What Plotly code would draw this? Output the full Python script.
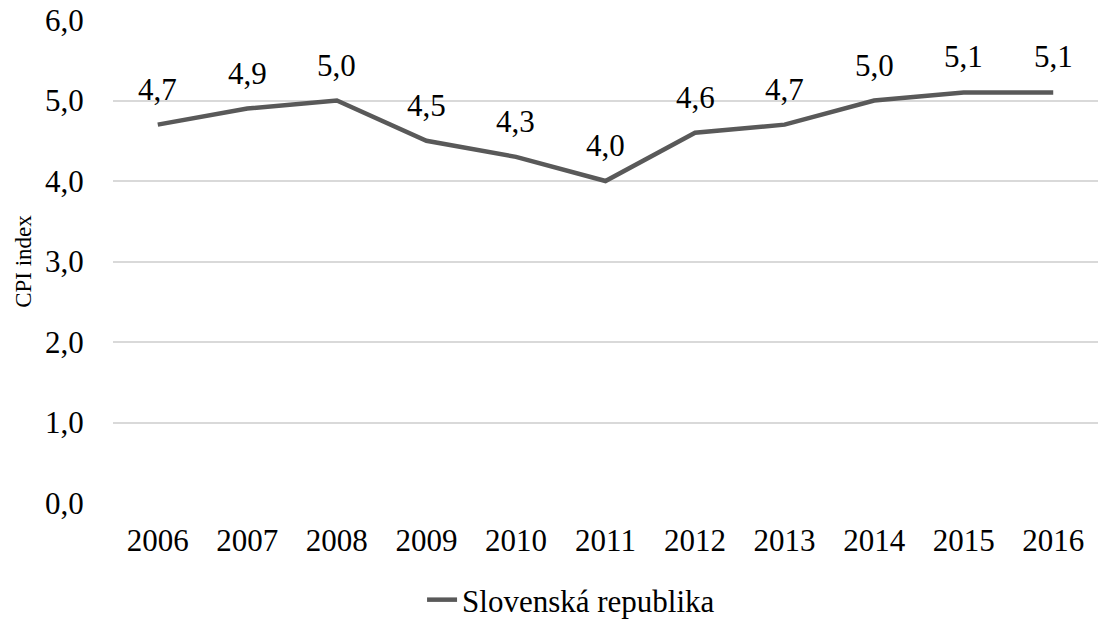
import plotly.graph_objects as go

years = ["2006", "2007", "2008", "2009", "2010", "2011", "2012", "2013", "2014", "2015", "2016"]
cpi = [4.7, 4.9, 5.0, 4.5, 4.3, 4.0, 4.6, 4.7, 5.0, 5.1, 5.1]
series_name = "Slovenská republika"

font_family = "Liberation Serif"

fig = go.Figure()
fig.add_trace(go.Scatter(
    x=years, y=cpi, name=series_name, mode="lines",
    line=dict(color="#595959", width=4.5),
    showlegend=True,
))

for i, v in enumerate(cpi):
    fig.add_annotation(
        x=i, y=v, xref="x", yref="y",
        text=f"{v:.1f}".replace(".", ","),
        showarrow=False, yanchor="bottom", yshift=16,
        font=dict(family=font_family, size=31, color="#000000"),
    )

fig.update_layout(
    width=1111, height=620,
    paper_bgcolor="white", plot_bgcolor="white",
    margin=dict(l=113, r=13, t=20, b=117, autoexpand=False),
    font=dict(family=font_family, size=31, color="#000000"),
    separators=", ",
    xaxis=dict(type="category", range=[-0.5, 10.5], showgrid=False, showline=False,
               ticks="outside", ticklen=10, tickcolor="white",
               tickfont=dict(size=31), zeroline=False),
    yaxis=dict(range=[0, 6], dtick=1, tickformat=".1f", showgrid=True,
               gridcolor="#d9d9d9", gridwidth=1.5, zeroline=False, showline=False,
               ticks="outside", ticklen=22, tickcolor="white",
               tickfont=dict(size=31),
               title=dict(text="CPI index", font=dict(size=23), standoff=6)),
    legend=dict(orientation="h", xref="container", x=0.514, xanchor="center",
                yref="container", y=1 - 600 / 620, yanchor="middle",
                font=dict(size=31)),
)

fig.write_html("out.html", config={"displayModeBar": False},
               post_script="document.body.style.margin='0';")
